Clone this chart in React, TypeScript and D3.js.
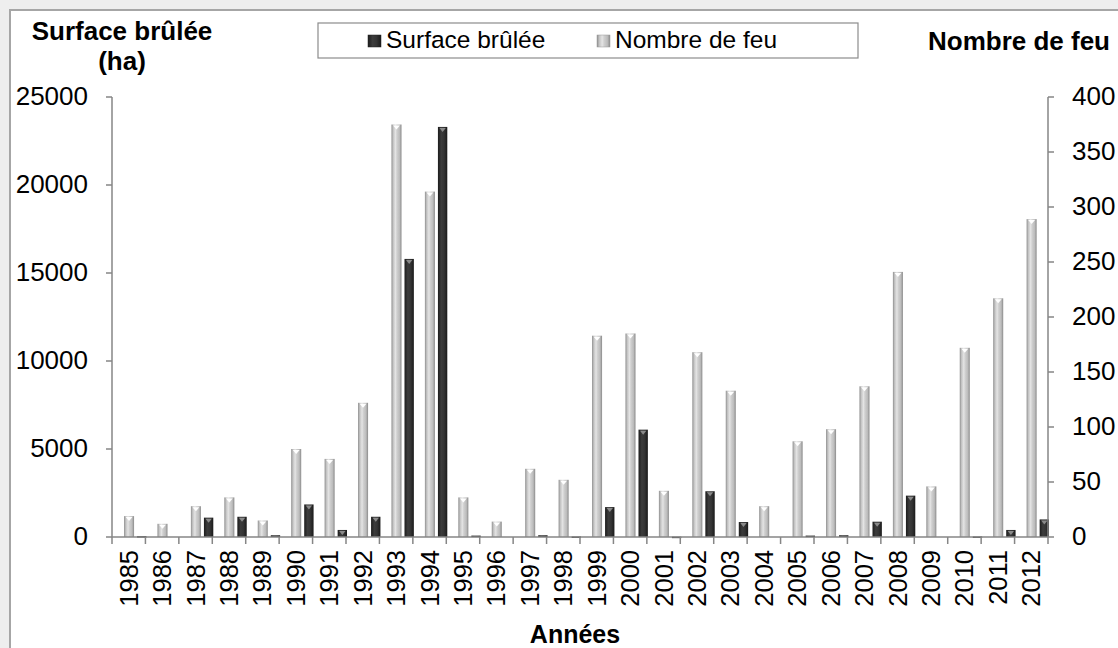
import * as d3 from 'd3';

// Incendies par année : surface brûlée (axe gauche) et nombre de feux (axe droit)
const years = [
  '1985', '1986', '1987', '1988', '1989', '1990', '1991', '1992', '1993', '1994',
  '1995', '1996', '1997', '1998', '1999', '2000', '2001', '2002', '2003', '2004',
  '2005', '2006', '2007', '2008', '2009', '2010', '2011', '2012',
];
const surface = [
  50, 0, 1100, 1150, 100, 1850, 400, 1150, 15800, 23300,
  80, 0, 100, 30, 1700, 6100, 20, 2600, 850, 0,
  80, 100, 870, 2350, 0, 30, 400, 1000,
];
const nombre = [
  19, 12, 28, 36, 15, 80, 71, 122, 375, 314,
  36, 14, 62, 52, 183, 185, 42, 168, 133, 28,
  87, 98, 137, 241, 46, 172, 217, 289,
];
const leftTicks = [0, 5000, 10000, 15000, 20000, 25000];
const rightTicks = [0, 50, 100, 150, 200, 250, 300, 350, 400];

const W = 1118;
const H = 648;
const plot = { left: 112, right: 1048, top: 97, bottom: 537 };
const axisColor = '#868686';
const font = 'Arial, "Liberation Sans", sans-serif';

export default function App() {
  const x = d3.scaleBand<string>().domain(years).range([plot.left, plot.right]).padding(0);
  const yL = d3.scaleLinear().domain([0, 25000]).range([plot.bottom, plot.top]);
  const yR = d3.scaleLinear().domain([0, 400]).range([plot.bottom, plot.top]);
  const bw = x.bandwidth();

  const grayX = (y: string) => (x(y) ?? 0) + 0.36 * bw;
  const grayW = 0.3 * bw;
  const darkX = (y: string) => (x(y) ?? 0) + 0.75 * bw;
  const darkW = 0.28 * bw;

  // petit chevron au sommet des barres (effet biseau d'Excel)
  const cap = (bx: number, w: number, top: number, fill: string) => {
    const c = bx + w / 2;
    return <path d={`M${c - w * 0.34},${top + 1} L${c + w * 0.34},${top + 1} L${c},${top + 5} Z`} fill={fill} />;
  };

  const boundaries = years.map((y) => x(y) ?? 0).concat([plot.right]);

  return (
    <div style={{ position: 'fixed', left: 0, top: 0 }}>
      <svg width={W} height={H} style={{ display: 'block', fontFamily: font }}>
        <defs>
          <linearGradient id="gGray" x1="0" x2="1" y1="0" y2="0">
            <stop offset="0%" stopColor="#8e8e8e" />
            <stop offset="18%" stopColor="#c4c4c4" />
            <stop offset="40%" stopColor="#e4e4e4" />
            <stop offset="55%" stopColor="#cfcfcf" />
            <stop offset="80%" stopColor="#bcbcbc" />
            <stop offset="100%" stopColor="#8a8a8a" />
          </linearGradient>
          <linearGradient id="gDark" x1="0" x2="1" y1="0" y2="0">
            <stop offset="0%" stopColor="#1c1c1c" />
            <stop offset="35%" stopColor="#3c3c3c" />
            <stop offset="65%" stopColor="#343434" />
            <stop offset="100%" stopColor="#1a1a1a" />
          </linearGradient>
        </defs>

        <rect x={0} y={0} width={W} height={H} fill="#eeeeee" />
        <rect x={10} y={10} width={W + 20} height={H + 20} fill="#ffffff" stroke="#a6a6a6" strokeWidth={2} />

        {/* titres d'axes */}
        <text x={122} y={40} fontSize={26} fontWeight="bold" textAnchor="middle">Surface brûlée</text>
        <text x={122} y={70} fontSize={26} fontWeight="bold" textAnchor="middle">(ha)</text>
        <text x={1110} y={50} fontSize={26} fontWeight="bold" textAnchor="end">Nombre de feu</text>
        <text x={575} y={643} fontSize={25} fontWeight="bold" textAnchor="middle">Années</text>

        {/* légende */}
        <rect x={318} y={23} width={540} height={35} fill="#ffffff" stroke="#8c8c8c" strokeWidth={1.2} />
        <rect x={368} y={35} width={13} height={12} fill="url(#gDark)" stroke="#222" strokeWidth={0.5} />
        <text x={386} y={48} fontSize={24.5}>Surface brûlée</text>
        <rect x={597} y={35} width={13} height={12} fill="url(#gGray)" stroke="#999" strokeWidth={0.5} />
        <text x={615} y={48} fontSize={24.5}>Nombre de feu</text>

        {/* barres : nombre de feux (gris) */}
        {years.map((y, i) => {
          const top = yR(nombre[i]);
          const bx = grayX(y);
          return (
            <g key={`n${y}`}>
              <rect x={bx} y={top} width={grayW} height={plot.bottom - top} fill="url(#gGray)" />
              {plot.bottom - top > 5 && cap(bx, grayW, top, '#ffffff')}
            </g>
          );
        })}

        {/* barres : surface brûlée (sombre) */}
        {years.map((y, i) => {
          if (surface[i] <= 0) return null;
          const top = yL(surface[i]);
          const bx = darkX(y);
          return (
            <g key={`s${y}`}>
              <rect x={bx} y={top} width={darkW} height={Math.max(plot.bottom - top, 1.5)} fill="url(#gDark)" />
              {plot.bottom - top > 5 && cap(bx, darkW, top, '#8a8a8a')}
            </g>
          );
        })}

        {/* axes */}
        <line x1={plot.left} x2={plot.left} y1={plot.top} y2={plot.bottom} stroke={axisColor} strokeWidth={1.5} />
        <line x1={plot.right} x2={plot.right} y1={plot.top} y2={plot.bottom} stroke={axisColor} strokeWidth={1.5} />
        <line x1={plot.left} x2={plot.right} y1={plot.bottom} y2={plot.bottom} stroke={axisColor} strokeWidth={1.5} />

        {leftTicks.map((t) => (
          <g key={`l${t}`}>
            <line x1={plot.left - 6} x2={plot.left} y1={yL(t)} y2={yL(t)} stroke={axisColor} strokeWidth={1.5} />
            <text x={88} y={yL(t) + 8} fontSize={26} textAnchor="end">{t}</text>
          </g>
        ))}
        {rightTicks.map((t) => (
          <g key={`r${t}`}>
            <line x1={plot.right} x2={plot.right + 6} y1={yR(t)} y2={yR(t)} stroke={axisColor} strokeWidth={1.5} />
            <text x={1072} y={yR(t) + 8} fontSize={26}>{t}</text>
          </g>
        ))}
        {boundaries.map((b, i) => (
          <line key={`b${i}`} x1={b} x2={b} y1={plot.bottom} y2={plot.bottom + 7} stroke={axisColor} strokeWidth={1.5} />
        ))}
        {years.map((y) => {
          const cx = (x(y) ?? 0) + bw / 2;
          return (
            <text
              key={`y${y}`}
              transform={`translate(${cx + 9},550) rotate(-90)`}
              fontSize={25.5}
              textAnchor="end"
            >
              {y}
            </text>
          );
        })}
      </svg>
    </div>
  );
}
